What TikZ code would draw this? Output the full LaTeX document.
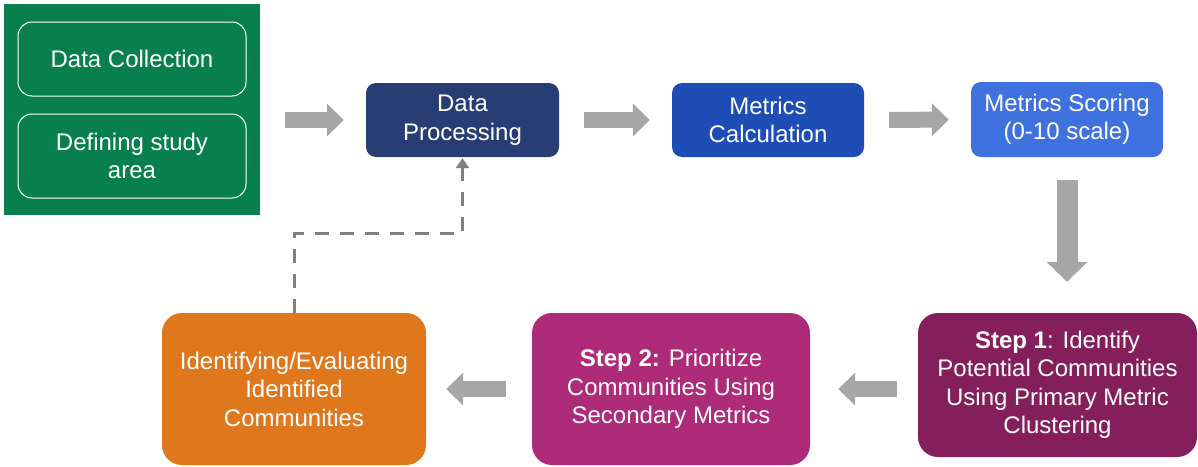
\documentclass[tikz,border=0pt]{standalone}
\usepackage{fontspec}
\setmainfont{Liberation Sans}
\usetikzlibrary{arrows.meta}

\definecolor{collectgreen}{HTML}{07804E}
\definecolor{procnavy}{HTML}{293D75}
\definecolor{calcblue}{HTML}{1F4DB6}
\definecolor{scoreblue}{HTML}{3F71DF}
\definecolor{stepone}{HTML}{841F5B}
\definecolor{steptwo}{HTML}{AD2B78}
\definecolor{evalorange}{HTML}{DF781C}
\definecolor{arrowgray}{HTML}{A6A6A6}
\definecolor{dashgray}{HTML}{808080}

\begin{document}
\begin{tikzpicture}[x=1pt, y=-1pt,
  box/.style={text=white, align=center, inner sep=0pt,
    font=\fontsize{24}{28.5}\selectfont},
  topbox/.style={box, rounded corners=10pt, minimum width=193pt, minimum height=74pt},
  lowbox/.style={box, rounded corners=20pt, minimum width=278pt},
  inbox/.style={box, draw=white, line width=1pt, fill=collectgreen,
    rounded corners=14pt, minimum width=228pt},
  blockarrow/.style={draw=arrowgray, line width=16pt,
    -{Triangle[width=32pt,length=17pt]}, shorten <=25pt, shorten >=22pt},
  feedback/.style={draw=dashgray, line width=3pt, dash pattern=on 14pt off 11pt,
    -{Triangle[width=13pt,length=10pt]}, shorten >=1pt}]

  \useasboundingbox (0,0) rectangle (1198,466);

  % inputs
  \node[fill=collectgreen, minimum width=256pt, minimum height=211pt,
    inner sep=0pt] (inputs) at (132,109.5) {};
  \node[inbox, minimum height=74pt] (collect) at (132,59) {Data Collection};
  \node[inbox, minimum height=84pt] (area) at (132,156) {Defining study\\area};

  % top row
  \node[topbox, fill=procnavy] (proc) at (462.5,120) {Data\\Processing};
  \node[topbox, fill=calcblue, minimum width=192pt] (calc) at (768,120)
    {Metrics\\Calculation};
  \node[topbox, fill=scoreblue, minimum width=192pt, minimum height=75pt]
    (score) at (1067,119.5) {Metrics Scoring\\(0-10 scale)};

  % bottom row
  \node[lowbox, fill=stepone, minimum width=279pt, minimum height=144pt]
    (step1) at (1057.5,385)
    {\textbf{Step 1}: Identify\\Potential Communities\\Using Primary Metric\\Clustering};
  \node[lowbox, fill=steptwo, minimum height=152pt] (step2) at (671,389)
    {\textbf{Step 2:} Prioritize\\Communities Using\\Secondary Metrics};
  \node[lowbox, fill=evalorange, minimum width=264pt, minimum height=152pt]
    (evaluate) at (294,389)
    {Identifying/Evaluating\\Identified\\Communities};

  % arrows
  \draw[blockarrow] (inputs.east |- proc.west) -- (proc.west);
  \draw[blockarrow] (proc) -- (calc);
  \draw[blockarrow] (calc) -- (score);
  \draw[blockarrow, line width=21pt, -{Triangle[width=40pt,length=20pt]},
    shorten <=23pt, shorten >=31pt] (score.south) -- (score.south |- step1.north);
  \draw[blockarrow, shorten <=21pt, shorten >=28pt]
    (step1.west |- step2.east) -- (step2.east);
  \draw[blockarrow, shorten <=26pt, shorten >=20pt] (step2) -- (evaluate);

  \draw[feedback] (evaluate.north) -- ++(0,-79) -| (proc.south);

\end{tikzpicture}
\end{document}
